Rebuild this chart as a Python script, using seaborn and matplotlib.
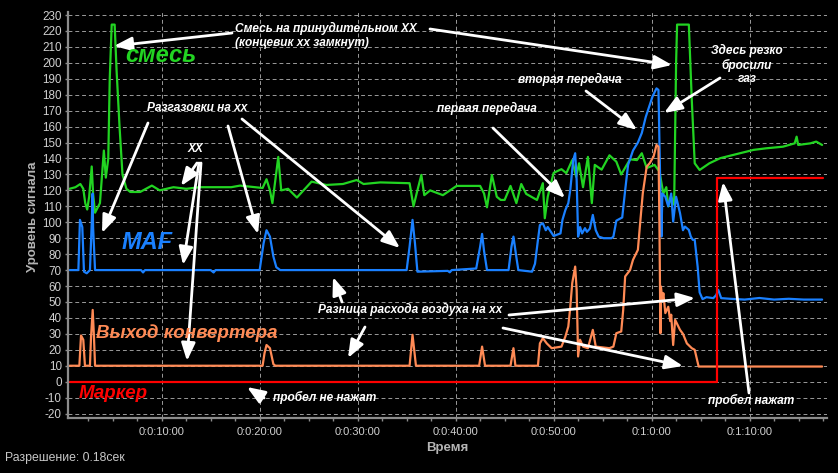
import matplotlib
matplotlib.use("Agg")
import matplotlib.pyplot as plt
import seaborn as sns
import pandas as pd
from matplotlib.ticker import MultipleLocator, FixedLocator, FixedFormatter

# ==============================
# Данные (время, сек / уровень сигнала)
# ==============================
green_t = [0.6, 1.2, 1.7, 2.0, 2.2, 2.4, 2.6, 2.86, 3.0, 3.2, 3.7, 4.1, 4.3, 4.55, 4.7, 4.9, 5.2, 5.4, 5.7,
           6.0, 6.4, 6.8, 7.8, 9.0, 9.8, 11.2, 12.5, 13.9, 16.0, 17.1, 18.0, 20.3, 20.7, 21.05, 21.3, 21.9,
           22.2, 22.9, 23.8, 25.3, 26.8, 28.5, 29.9, 30.6, 32.3, 35.3, 35.7, 36.1, 36.5, 36.8, 37.4, 38.7,
           40.1, 42.5, 42.9, 43.2, 43.7, 44.2, 44.6, 45.0, 45.6, 46.2, 46.7, 47.2, 48.3, 48.9, 49.1, 49.4,
           50.0, 50.8, 51.3, 51.9, 52.3, 52.6, 53.0, 53.5, 53.9, 54.2, 54.9, 55.7, 56.4, 56.9, 57.8, 58.5,
           59.0, 59.5, 60.3, 60.8, 61.2, 61.5, 61.7, 62.0, 62.3, 62.5, 62.6, 63.8, 64.1, 64.4, 64.9, 65.9,
           67.0, 68.3, 70.4, 71.7, 73.4, 74.6, 74.8, 74.96, 76.2, 76.8, 77.4]
green_v = [121, 122, 124, 121, 112, 108, 116, 135, 118, 106, 112, 145, 128, 140, 190, 224, 224, 195, 160,
           130, 121, 119, 119, 123, 120, 122, 121, 122, 122, 122, 123, 121.5, 127, 120, 112, 141,
           120, 121, 115.5, 125.5, 123.4, 124, 126.5, 124, 125, 124.5, 110, 120, 129.7, 117, 120, 117,
           122.8, 122.8, 118, 109.4, 129.7, 116, 114, 114, 122.8, 112, 124, 117.8, 114, 124.5, 102.5, 116,
           131, 133.3, 130.8, 139, 128.5, 137, 122, 141, 112, 136, 133, 142, 138, 130, 139.5, 139,
           143.3, 134, 136, 131.8, 118, 122, 110, 116, 111, 200, 224, 224, 176.7, 137, 132.8, 137,
           140.2, 142.2, 145.4, 146.4, 147.4, 149.5, 153.7, 148.5, 149.5, 150.6, 148.5]

maf_t = [0.6, 1.5, 1.66, 1.9, 2.07, 2.35, 2.68, 2.86, 2.95, 3.0, 3.2, 5.0, 7.9, 8.1, 8.3, 12.0, 15.0, 15.3,
         15.5, 20.0, 20.4, 20.7, 21.05, 21.4, 21.7, 22.1, 28.0, 35.0, 35.3, 35.6, 35.85, 36.1, 39.2, 39.4,
         39.6, 42.1, 42.5, 42.7, 42.9, 43.2, 45.4, 45.7, 45.9, 46.2, 46.4, 47.8, 48.1, 48.4, 48.6, 48.9,
         49.2, 49.4, 50.0, 50.7, 50.9, 51.2, 51.5, 51.7, 52.0, 52.2, 52.35, 52.5, 52.7, 52.9, 53.2, 53.4,
         53.7, 54.0, 54.3, 54.6, 55.1, 55.9, 56.1, 56.4, 57.0, 57.3, 57.6, 58.1, 58.6, 59.0, 59.4, 60.1,
         60.5, 60.7, 60.8, 60.9, 61.0, 61.1, 61.4, 61.7, 62.0, 62.2, 62.5, 62.9, 63.2, 63.4, 63.8, 64.0,
         64.2, 64.4, 64.7, 64.9, 65.2, 65.6, 66.3, 66.6, 66.8, 67.1, 68.0, 69.5, 71.0, 72.5, 74.0, 75.5,
         77.4]
maf_v = [70, 70, 101.5, 97, 69, 68, 70, 99, 118, 97, 70, 70, 70, 68.5, 70, 70, 70, 68.5,
         70, 70, 86.8, 95, 91, 78.5, 71.8, 70, 70, 70, 84.7, 101.5, 86.8, 69, 69.5, 68.6,
         70, 71, 84.7, 92.7, 82, 70, 70, 84.7, 91, 78, 70, 69, 74, 88.9, 98.3, 99.4,
         95, 97, 91.4, 93, 101.5, 107.7, 112, 120.3, 139, 143.3, 126.5, 91, 97, 93, 96.3, 94,
         96, 104.6, 95, 91, 90, 90, 91, 101, 103, 120, 136, 145, 150, 156, 166, 179,
         184, 183, 150, 118, 91, 118, 116, 110, 118, 100.4, 116, 105.7, 95, 97.3, 95.2, 91,
         89, 89, 72, 56, 51.8, 53, 52.4, 54.4, 57.6, 52.4, 52, 51.5, 52.5, 51.5, 52, 51.5,
         51.5]

conv_t = [0.6, 1.6, 1.77, 2.0, 2.17, 2.68, 2.79, 2.96, 3.09, 3.2, 20.3, 20.5, 20.7, 21.05, 21.4, 21.6,
          35.3, 35.6, 35.95, 42.4, 42.7, 43.0, 45.6, 45.9, 46.1, 48.4, 48.6, 48.9, 49.3, 49.8, 50.8,
          51.2, 51.5, 51.7, 51.9, 52.2, 52.35, 52.5, 52.7, 53.0, 53.5, 54.0, 54.3, 55.7, 56.1, 56.4,
          56.9, 57.1, 57.3, 57.8, 58.1, 58.6, 58.8, 59.1, 59.5, 59.8, 60.2, 60.5, 60.7, 60.8, 60.9,
          60.95, 61.1, 61.2, 61.4, 61.7, 61.9, 62.0, 62.2, 62.4, 62.9, 63.2, 63.6, 64.1, 64.4, 64.8,
          77.4]
conv_v = [10, 10, 29, 26.3, 10, 10, 28, 45, 28, 10, 10, 18, 23, 21, 11, 10,
          10, 29.4, 10, 10, 22, 10, 10, 21, 10, 10, 24, 27.3, 24, 21, 22,
          28.3, 34.6, 47, 61.8, 72.2, 57.6, 15.8, 26.3, 22, 21, 32.5, 22, 21, 22, 30.4,
          31.5, 45, 66, 70, 76.4, 82.7, 97.3, 118.2, 134.9, 137, 141.2, 148.5, 147.4, 97, 30.4,
          59.7, 51.3, 55.5, 43, 47, 38, 42, 23, 38.8, 32.5, 30, 24, 21, 20, 9.5,
          9.5]

marker_t = [0.6, 66.7, 66.7, 77.5]
marker_v = [0, 0, 128, 128]

x_ticks = [10, 20, 30, 40, 50, 60, 70]
x_labels = ["0:0:10:00", "0:0:20:00", "0:0:30:00", "0:0:40:00", "0:0:50:00", "0:1:0:00", "0:1:10:00"]

# ==============================
# Оформление
# ==============================
sns.set_theme(style="dark", rc={
    "figure.facecolor": "black",
    "axes.facecolor": "black",
    "axes.edgecolor": "#8c8c8c",
    "text.color": "white",
    "axes.unicode_minus": False,
})
plt.rcParams['font.family'] = ['Liberation Sans', 'DejaVu Sans']

W, H = 838, 473
fig = plt.figure(figsize=(W / 100, H / 100), dpi=100)
ax = fig.add_axes([68 / W, 1 - 417.7 / H, (827 - 68) / W, (417.7 - 12) / H])

GREEN = "#22d422"
BLUE = "#1a80ff"
ORANGE = "#ff8a55"
RED = "#ff0000"

series = [(green_t, green_v, GREEN), (maf_t, maf_v, BLUE), (conv_t, conv_v, ORANGE),
          (marker_t, marker_v, RED)]
for t, v, c in series:
    sns.lineplot(x=t, y=v, estimator=None, sort=False, color=c, lw=1.6, ax=ax)

ax.set_xlim(0.44, 77.9)
ax.set_ylim(-22.6, 231.9)
ax.yaxis.set_major_locator(MultipleLocator(10))
ax.xaxis.set_major_locator(FixedLocator(x_ticks))
ax.xaxis.set_major_formatter(FixedFormatter(x_labels))
ax.xaxis.set_minor_locator(MultipleLocator(2.5))

ax.grid(True, which="major", color="#9a9a9a", lw=0.7, ls=(0, (4, 3)))
for s in ["top", "right"]:
    ax.spines[s].set_visible(False)
for s in ["left", "bottom"]:
    ax.spines[s].set_linewidth(1.6)
    ax.spines[s].set_color("#8c8c8c")

ax.tick_params(axis="y", which="major", left=True, length=2.5, width=1, color="#8c8c8c",
               labelsize=8.4, labelcolor="#d0d0d0", pad=2)
ax.tick_params(axis="x", which="both", bottom=True, length=2.5, width=1, color="#8c8c8c",
               labelsize=8, labelcolor="#d0d0d0", pad=4)
ax.set_xlabel("")
ax.set_ylabel("")


def fxy(px, py):
    return (px / W, 1 - py / H)


fig.text(*fxy(33, 217), "Уровень сигнала", rotation=90, ha="center", va="center",
         color="#b4b4b4", fontsize=9.5, fontweight="bold")
fig.text(*fxy(447, 448), "Время", ha="center", va="center",
         color="#b4b4b4", fontsize=9.5, fontweight="bold")
fig.text(*fxy(5, 458), "Разрешение: 0.18сек", ha="left", va="center",
         color="#c8c8c8", fontsize=8.8)

# ==============================
# Подписи и стрелки
# ==============================
note = dict(color="white", fontsize=8.6, fontweight="bold", fontstyle="italic", va="center")
fig.text(*fxy(235, 35.5), "Смесь на принудительном ХХ\n(концевик хх замкнут)", ha="left",
         linespacing=1.2, **note)
fig.text(*fxy(147, 108), "Разгазовки на хх", ha="left", **note)
fig.text(*fxy(188, 149), "ХХ", ha="left", **note)
fig.text(*fxy(273, 397), "пробел не нажат", ha="left", **note)
fig.text(*fxy(318, 309), "Разница расхода воздуха на хх", ha="left", **note)
fig.text(*fxy(437, 108), "первая передача", ha="left", **note)
fig.text(*fxy(518, 79), "вторая передача", ha="left", **note)
fig.text(*fxy(747, 64.5), "Здесь резко\nбросили\nгаз", ha="center", linespacing=1.15, **note)
fig.text(*fxy(708, 400), "пробел нажат", ha="left", **note)

big = dict(fontweight="bold", fontstyle="italic", va="center", ha="left")
fig.text(*fxy(125, 55), "смесь", color=GREEN, fontsize=17, **big)
fig.text(*fxy(122, 242), "MAF", color=BLUE, fontsize=17, **big)
fig.text(*fxy(96, 333), "Выход конвертера", color=ORANGE, fontsize=13.5, **big)
fig.text(*fxy(79, 393), "Маркер", color=RED, fontsize=13.5, **big)

arrows = [
    ((232, 33), (114, 46)), ((430, 29), (672, 65)),
    ((148, 123), (102, 233)), ((228, 126), (258, 234)), ((242, 119), (400, 248)),
    ((197, 163), (181, 186)), ((199, 163), (183, 265)), ((201, 163), (187, 361)),
    ((264, 398), (247, 387)),
    ((342, 302), (333, 277)), ((365, 327), (348, 358)),
    ((509, 315), (695, 298)), ((503, 328), (683, 366)),
    ((493, 128), (565, 198)), ((586, 91), (637, 130)),
    ((720, 78), (664, 113)), ((749, 393), (723, 182)),
]
for tail, head in arrows:
    ax.annotate("", xy=fxy(*head), xytext=fxy(*tail), xycoords="figure fraction",
                textcoords="figure fraction",
                arrowprops=dict(arrowstyle="-|>,head_length=0.9,head_width=0.35",
                                color="white", lw=2, shrinkA=0, shrinkB=0))

fig.savefig("out.png", dpi=100, facecolor="black")
